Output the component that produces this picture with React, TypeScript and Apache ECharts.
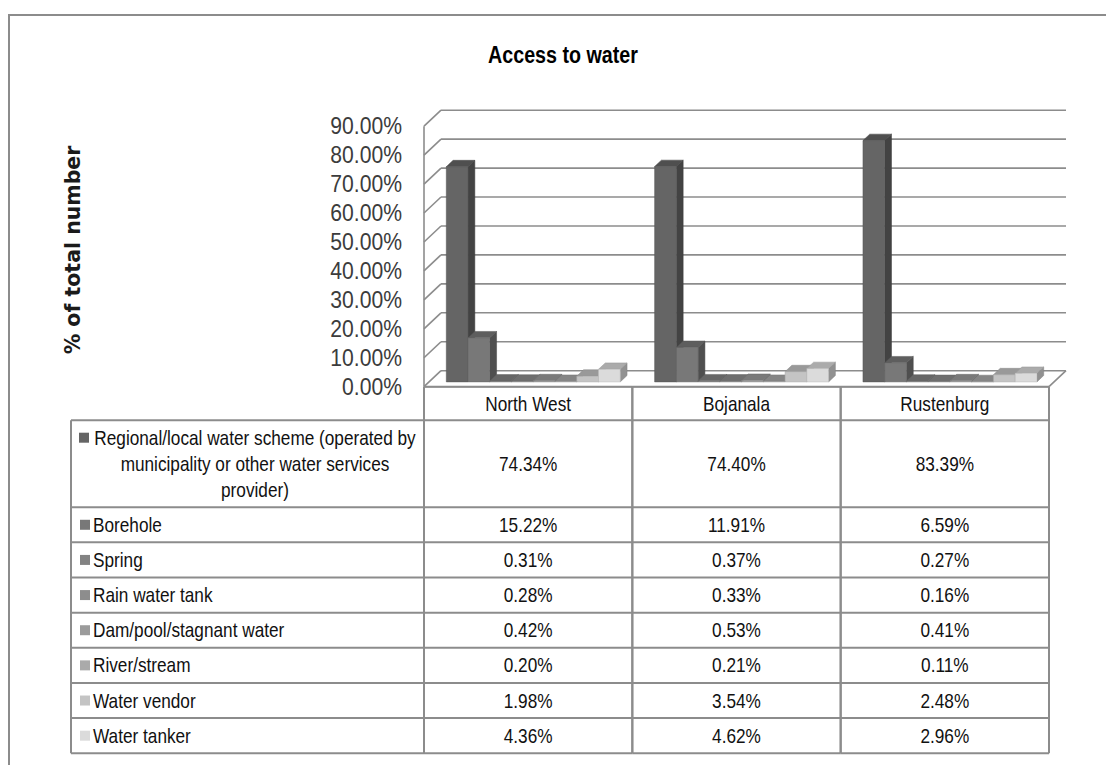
import React, { useEffect, useRef } from 'react';
import * as echarts from 'echarts';

// ---------- data ----------
const categories = ['North West', 'Bojanala', 'Rustenburg'];
const seriesNames = [
  'Regional/local water scheme (operated by\nmunicipality or other water services\nprovider)',
  'Borehole',
  'Spring',
  'Rain water tank',
  'Dam/pool/stagnant water',
  'River/stream',
  'Water vendor',
  'Water tanker',
];
const regionalScheme = [74.34, 74.4, 83.39];
const borehole = [15.22, 11.91, 6.59];
const spring = [0.31, 0.37, 0.27];
const rainWaterTank = [0.28, 0.33, 0.16];
const damPool = [0.42, 0.53, 0.41];
const riverStream = [0.2, 0.21, 0.11];
const waterVendor = [1.98, 3.54, 2.48];
const waterTanker = [4.36, 4.62, 2.96];
const seriesValues = [regionalScheme, borehole, spring, rainWaterTank, damPool, riverStream, waterVendor, waterTanker];
const yTickValues = [0, 10, 20, 30, 40, 50, 60, 70, 80, 90];

// ---------- styles ----------
const seriesColors = ['#656565', '#787878', '#838383', '#8d8d8d', '#9b9b9b', '#aaaaaa', '#c4c4c4', '#dbdbdb'];
const FONT = '"Liberation Sans", Arial, sans-serif';
const NARROW_SCALE = 0.82;
const TICK_SCALE = 0.92;
const LINE = '#8c8c8c';
const W = 1106;
const H = 765;
const GRID_LEFT = 424;
const GRID_RIGHT_X = 1049;
const GRID_TOP = 126.2;
const GRID_BOTTOM_Y = 386.7;
const DX = 17; // depth offset of back wall
const DY = -16;
const BAR_F1 = 0.3;
const BAR_F2 = 0.7;
const BAR_FILL = 0.835;
const HEADER_H = 33.5;
const ROW1_H = 87;
const ROW_H = 35.15;
const LEGEND_LEFT = 71;
const TEXT_COLOR = '#111111';
const TABLE_FONT = 21;
const TICK_FONT = 23;
const TICK_GAP = 22;

function shade(hex: string, f: number) {
  const n = parseInt(hex.slice(1), 16);
  const r = Math.round(((n >> 16) & 255) * f);
  const g = Math.round(((n >> 8) & 255) * f);
  const b = Math.round((n & 255) * f);
  return `rgb(${r},${g},${b})`;
}

function rowTops(top: number) {
  const arr = [top, top + HEADER_H, top + HEADER_H + ROW1_H];
  for (let i = 1; i < seriesNames.length; i++) arr.push(arr[arr.length - 1] + ROW_H);
  return arr;
}

function narrowText(x: number, y: number, text: string, align: string, size: number, fill = TEXT_COLOR, weight = 'normal', scale = NARROW_SCALE) {
  return {
    type: 'text',
    x,
    y,
    scaleX: scale,
    style: { text, align, verticalAlign: 'middle', font: `${weight} ${size}px ${FONT}`, fill },
  };
}

function App() {
  const ref = useRef<HTMLDivElement>(null);
  useEffect(() => {
    if (!ref.current) return;
    const chart = echarts.init(ref.current, undefined, { renderer: 'svg' });

    // back wall, side wall, floor and the value-axis tick labels
    const wallSeries: any = {
      type: 'custom',
      name: 'walls',
      silent: true,
      clip: false,
      z: 1,
      data: yTickValues.map((v) => [0, v]),
      renderItem: (params: any, api: any) => {
        const cs = params.coordSys;
        const L = cs.x;
        const R = cs.x + cs.width;
        const v = api.value(1);
        const y = api.coord([0, v])[1];
        const st = { stroke: LINE, lineWidth: 1.6, fill: null };
        const children: any[] = [
          { type: 'line', shape: { x1: L + DX, y1: y + DY, x2: R + DX, y2: y + DY }, style: st },
          { type: 'line', shape: { x1: L, y1: y, x2: L + DX, y2: y + DY }, style: st },
          narrowText(L - TICK_GAP, y, v.toFixed(2) + '%', 'right', TICK_FONT, '#3c3c3c', 'normal', TICK_SCALE),
        ];
        if (v === 0) {
          children.push({ type: 'line', shape: { x1: R, y1: y, x2: R + DX, y2: y + DY }, style: st });
          children.push({ type: 'line', shape: { x1: L, y1: y, x2: R, y2: y }, style: st });
          children.push({ type: 'line', shape: { x1: L, y1: y, x2: L, y2: cs.y }, style: st });
        }
        return { type: 'group', children };
      },
    };

    const barSeries: any[] = seriesNames.map((name, s) => ({
      type: 'custom',
      name,
      z: 2,
      data: categories.map((_, c) => [c, seriesValues[s][c], s]),
      renderItem: (params: any, api: any) => {
        const c = api.value(0);
        const v = api.value(1);
        const si = api.value(2);
        const base = api.coord([c, 0]);
        const top = api.coord([c, v]);
        const catW = api.size([1, 0])[0];
        const bw = (catW * BAR_FILL) / seriesNames.length;
        const x0 = base[0] + (si - seriesNames.length / 2) * bw;
        const x1 = x0 + bw;
        const fdx = DX * BAR_F1, fdy = DY * BAR_F1;
        const bdx = DX * BAR_F2, bdy = DY * BAR_F2;
        const col = seriesColors[si];
        const yb = base[1];
        const yt = top[1];
        return {
          type: 'group',
          children: [
            {
              type: 'polygon',
              shape: { points: [[x1 + fdx, yt + fdy], [x1 + bdx, yt + bdy], [x1 + bdx, yb + bdy], [x1 + fdx, yb + fdy]] },
              style: { fill: shade(col, 0.66), stroke: shade(col, 0.6), lineWidth: 0.5 },
            },
            {
              type: 'polygon',
              shape: { points: [[x0 + fdx, yt + fdy], [x0 + bdx, yt + bdy], [x1 + bdx, yt + bdy], [x1 + fdx, yt + fdy]] },
              style: { fill: shade(col, 0.78), stroke: shade(col, 0.7), lineWidth: 0.5 },
            },
            {
              type: 'rect',
              shape: { x: x0 + fdx, y: yt + fdy, width: bw, height: yb - yt },
              style: { fill: col, stroke: shade(col, 0.85), lineWidth: 0.5 },
            },
          ],
        };
      },
    }));

    const tableSeries: any = {
      type: 'custom',
      name: 'table',
      silent: true,
      z: 3,
      clip: false,
      data: categories.map((_, c) => [c, 0]),
      renderItem: (params: any, api: any) => {
        const c = api.value(0);
        const base = api.coord([c, 0]);
        const w = api.size([1, 0])[0];
        const xL = base[0] - w / 2;
        const xR = base[0] + w / 2;
        const tops = rowTops(base[1]);
        const bottom = tops[tops.length - 1];
        const st = { stroke: LINE, lineWidth: 2, fill: null };
        const children: any[] = [
          { type: 'line', shape: { x1: xL, y1: tops[0], x2: xL, y2: bottom }, style: st },
          { type: 'line', shape: { x1: xR, y1: tops[0], x2: xR, y2: bottom }, style: st },
        ];
        tops.forEach((t) => children.push({ type: 'line', shape: { x1: xL, y1: t, x2: xR, y2: t }, style: st }));
        children.push(narrowText(base[0], (tops[0] + tops[1]) / 2, categories[c], 'center', TABLE_FONT));
        seriesValues.forEach((vals, s) => {
          children.push(narrowText(base[0], (tops[s + 1] + tops[s + 2]) / 2, vals[c].toFixed(2) + '%', 'center', TABLE_FONT));
        });
        return { type: 'group', children };
      },
    };

    // legend column of the data table
    const tops = rowTops(GRID_BOTTOM_Y);
    const bottom = tops[tops.length - 1];
    const lst = { stroke: LINE, lineWidth: 2, fill: null };
    const legendEls: any[] = [
      { type: 'line', shape: { x1: LEGEND_LEFT, y1: tops[1], x2: LEGEND_LEFT, y2: bottom }, style: lst },
    ];
    for (let i = 1; i < tops.length; i++) {
      legendEls.push({ type: 'line', shape: { x1: LEGEND_LEFT, y1: tops[i], x2: GRID_LEFT, y2: tops[i] }, style: lst });
    }
    seriesNames.forEach((name, s) => {
      const lines = name.split('\n');
      const yMid = (tops[s + 1] + tops[s + 2]) / 2;
      if (lines.length > 1) {
        const lh = 26;
        const y0 = yMid - ((lines.length - 1) * lh) / 2;
        legendEls.push({ type: 'rect', shape: { x: 79, y: y0 - 5, width: 10, height: 10 }, style: { fill: seriesColors[s] } });
        lines.forEach((ln, i) => legendEls.push(narrowText(255, y0 + i * lh, ln, 'center', TABLE_FONT)));
      } else {
        legendEls.push({ type: 'rect', shape: { x: 80, y: yMid - 5, width: 10, height: 10 }, style: { fill: seriesColors[s] } });
        legendEls.push(narrowText(93, yMid, name, 'left', TABLE_FONT));
      }
    });

    const option: any = {
      animation: false,
      backgroundColor: '#ffffff',
      grid: { left: GRID_LEFT, right: W - GRID_RIGHT_X, top: GRID_TOP, bottom: H - GRID_BOTTOM_Y, containLabel: false },
      xAxis: {
        type: 'category',
        data: categories,
        axisLine: { show: false },
        axisTick: { show: false },
        axisLabel: { show: false },
        splitLine: { show: false },
      },
      yAxis: {
        type: 'value',
        min: 0,
        max: 90,
        interval: 10,
        axisLine: { show: false },
        axisTick: { show: false },
        splitLine: { show: false },
        axisLabel: { show: false },
      },
      graphic: [
        { type: 'polyline', shape: { points: [[9, H], [9, 15], [W, 15]] }, style: { stroke: LINE, lineWidth: 2, fill: null } },
        narrowText(563, 55, 'Access to water', 'center', 24, '#000', 'bold'),
        {
          type: 'text', x: 73, y: 250, rotation: Math.PI / 2,
          style: { text: '% of total number', align: 'center', verticalAlign: 'middle', font: 'bold 20.5px "DejaVu Sans", sans-serif', fill: '#1a1a1a' },
        },
        ...legendEls,
      ],
      series: [wallSeries, ...barSeries, tableSeries],
    };
    chart.setOption(option);
    return () => chart.dispose();
  }, []);
  return <div ref={ref} style={{ position: 'fixed', left: 0, top: 0, width: W, height: H, background: '#fff' }} />;
}

export default App;
